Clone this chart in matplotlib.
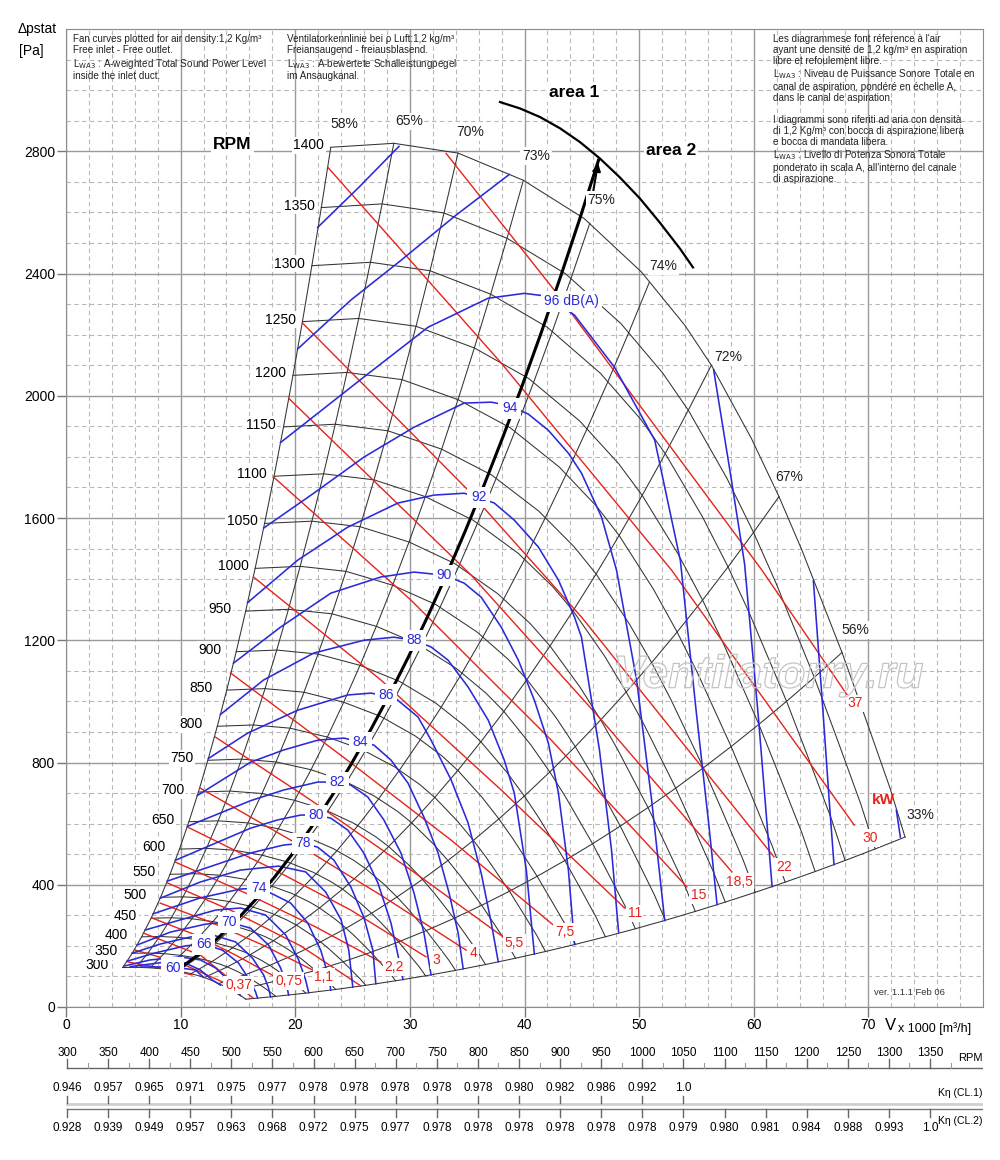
import numpy as np
import matplotlib.pyplot as plt
from matplotlib import patheffects
from matplotlib.transforms import Affine2D

plt.rcParams['font.family'] = ['Liberation Sans', 'DejaVu Sans']
NARROW = ['Liberation Sans Narrow', 'Liberation Sans', 'DejaVu Sans']
BLUE = '#2a2ad8'
RED = '#e5231b'
INK = '#333333'

# fan curve at 1400 rpm, V x 1000 m3/h and static pressure in Pa
base_q = [23.1, 28.6, 34.2, 39.9, 45.2, 50.2, 54.0, 56.3, 59.8, 62.2, 64.2, 67.7, 69.7, 71.9, 73.2]
base_p = [2813, 2826, 2794, 2705, 2580, 2405, 2230, 2100, 1860, 1670, 1495, 1160, 950, 715, 556]
rpm_values = list(range(300, 1401, 50))

# efficiency lines: point where they meet the 1400 rpm curve, and label spot
eff_labels = ['58%', '65%', '70%', '73%', '75%', '74%', '72%', '67%', '56%', '33%']
eff_top_q = [23.1, 28.6, 34.2, 39.9, 45.7, 50.9, 56.3, 62.2, 67.7, 73.2]
eff_top_p = [2813, 2826, 2794, 2705, 2565, 2372, 2100, 1670, 1160, 556]
eff_lab_q = [24.3, 29.9, 35.3, 41.0, 46.7, 52.1, 57.8, 63.1, 68.9, 74.5]
eff_lab_p = [2888, 2898, 2862, 2784, 2640, 2424, 2126, 1734, 1233, 628]

# thick optimum line (top point) and area border arc
thick_top = (46.46, 2771)
arc_q = [37.86, 39.61, 41.35, 43.10, 44.84, 46.59, 48.33, 50.08, 51.82, 53.57, 54.70]
arc_p = [2961, 2940, 2912, 2875, 2830, 2776, 2714, 2645, 2566, 2481, 2420]

# sound power curves LWA3 dB(A)
snd_q = [
    [6.5, 9.3, 11.3, 12.0],
    [5.6, 8.66, 10.41, 11.72, 12.77, 13.47],
    [5.07, 7.35, 9.97, 11.72, 13.04, 14.17, 14.87, 15.22],
    [5.34, 7.79, 10.41, 11.99, 13.65, 15.05, 16.01, 16.54, 16.71],
    [5.77, 8.22, 10.85, 12.77, 14.79, 16.27, 17.24, 17.67, 17.85],
    [6.21, 9.10, 12.16, 14.17, 16.10, 17.67, 18.72, 19.25, 19.42],
    [6.91, 9.97, 13.04, 15.22, 17.41, 19.16, 20.30, 20.91, 21.17],
    [7.61, 11.72, 15.22, 16.80, 17.85, 19.60, 21.09, 22.22, 22.92, 23.10],
    [8.22, 11.72, 15.22, 18.55, 20.91, 22.66, 24.00, 24.67, 25.02],
    [8.84, 16.10, 18.99, 20.73, 21.96, 23.36, 24.85, 25.98, 26.77, 27.03],
    [9.54, 16.10, 18.46, 20.47, 21.78, 23.10, 24.58, 25.98, 27.21, 28.35, 29.05, 29.40],
    [10.59, 16.10, 18.99, 21.96, 23.71, 24.85, 26.33, 27.73, 29.22, 30.36, 31.23, 31.85],
    [11.46, 16.10, 18.99, 21.96, 24.23, 26.86, 28.35, 29.83, 31.23, 32.46, 33.42, 34.21, 34.65],
    [12.42, 15.84, 20.21, 24.58, 26.60, 28.61, 30.71, 31.85, 33.60, 35.08, 36.22, 37.10, 37.71],
    [13.47, 17.24, 21.61, 25.98, 28.61, 30.36, 31.85, 33.33, 35.08, 36.83, 38.23, 39.11, 40.16, 40.86],
    [14.61, 18.72, 23.10, 27.47, 30.36, 32.98, 34.73, 36.22, 37.97, 39.46, 40.86, 42.08, 42.96, 43.83, 44.36],
    [15.84, 20.21, 24.58, 28.96, 32.11, 34.73, 35.96, 37.36, 39.11, 41.21, 42.96, 44.36, 44.97, 46.54, 47.59, 48.21],
    [17.24, 21.61, 25.98, 30.36, 34.73, 37.10, 38.67, 40.33, 42.08, 43.83, 44.97, 46.72, 48.03, 49.78, 51.09, 52.23],
    [18.72, 25.98, 31.58, 36.83, 39.98, 41.91, 44.36, 47.86, 51.36, 53.6, 55.0, 56.1, 56.8],
    [20.21, 24.85, 29.22, 34.03, 38.67],
    [56.5, 57.9, 59.2, 60.4, 61.6],
    [21.96, 25.55, 29.05],
    [65.2, 65.97, 66.58, 67.0],
    [72.44, 72.79],
]
snd_p = [
    [131, 131, 121, 97],
    [132, 147, 144, 121, 88, 72],
    [134, 154, 164, 154, 128, 88, 52, 38],
    [150, 177, 200, 206, 186, 144, 88, 49, 29],
    [176, 206, 229, 236, 213, 160, 105, 62, 33],
    [203, 245, 271, 278, 258, 203, 128, 72, 39],
    [252, 285, 317, 324, 301, 236, 154, 88, 47],
    [305, 357, 386, 389, 373, 340, 275, 186, 98, 55],
    [356, 409, 448, 461, 442, 376, 285, 186, 65],
    [412, 504, 530, 536, 523, 481, 393, 294, 186, 76],
    [480, 585, 612, 628, 628, 618, 579, 504, 406, 275, 154, 90],
    [591, 675, 710, 736, 736, 726, 687, 612, 504, 373, 242, 105],
    [692, 801, 841, 873, 880, 857, 808, 733, 621, 504, 373, 242, 125],
    [813, 896, 971, 1021, 1027, 1014, 949, 873, 743, 602, 438, 275, 148],
    [957, 1070, 1158, 1200, 1210, 1200, 1178, 1135, 1047, 939, 808, 700, 448, 173],
    [1125, 1243, 1354, 1407, 1423, 1413, 1387, 1341, 1243, 1135, 1004, 864, 700, 448, 205],
    [1323, 1462, 1570, 1649, 1675, 1681, 1668, 1649, 1593, 1505, 1397, 1276, 1210, 841, 514, 245],
    [1567, 1681, 1799, 1897, 1976, 1979, 1968, 1940, 1887, 1812, 1747, 1603, 1429, 1070, 677, 283],
    [1847, 2061, 2224, 2319, 2335, 2326, 2264, 2093, 1855, 1460, 960, 590, 335],
    [2153, 2313, 2443, 2591, 2724],
    [2085, 1760, 1450, 950, 394],
    [2551, 2682, 2816],
    [1395, 1004, 677, 466],
    [644, 556],
]
snd_labels = ['60', '66', '70', '74', '78', '80', '82', '84', '86', '88', '90', '92', '94']
snd_lab_q = [9.3, 12.0, 14.2, 16.8, 20.7, 21.8, 23.7, 25.7, 27.9, 30.4, 33.0, 36.0, 38.7]
snd_lab_p = [128, 206, 278, 389, 536, 628, 736, 867, 1021, 1200, 1413, 1668, 1959]

# motor power lines kW
kw_q = [
    [33.16, 42.61, 60.72, 68.15],
    [22.83, 37.97, 52.84, 68.77],
    [20.65, 35.08, 44.97, 61.77],
    [19.42, 35.35, 46.72, 58.09],
    [18.11, 30.10, 42.34, 54.16],
    [16.36, 27.47, 37.97, 48.73],
    [14.35, 23.97, 33.60, 42.52],
    [13.04, 21.35, 30.10, 38.15],
    [11.72, 19.60, 27.47, 34.91],
    [10.59, 17.85, 24.85, 31.41],
    [9.54, 15.66, 21.78, 27.47],
    [8.84, 14.35, 20.47, 25.72],
    [8.22, 12.60, 17.15, 21.52],
    [7.52, 11.29, 14.79, 18.29],
    [6.74, 11.72, 16.3],
    [6.04, 9.97, 13.65],
    [5.42, 8.66, 11.0],
]
kw_p = [
    [2793, 2345, 1429, 1021],
    [2748, 2107, 1429, 595],
    [2237, 1691, 1276, 491],
    [1992, 1413, 939, 442],
    [1734, 1331, 873, 393],
    [1407, 1070, 710, 324],
    [1093, 824, 546, 268],
    [883, 677, 448, 229],
    [716, 546, 366, 186],
    [589, 455, 317, 164],
    [474, 373, 262, 147],
    [406, 317, 200, 69],
    [340, 278, 203, 121],
    [291, 236, 170, 98],
    [242, 170, 30],
    [186, 144, 82],
    [147, 125, 105],
]
kw_labels = ['37', '30', '22', '18,5', '15', '11', '7,5', '5,5', '4', '3', '2,2', '1,1', '0,75', '0,37']
kw_lab_q = [68.86, 70.17, 62.64, 58.71, 55.21, 49.61, 43.48, 39.11, 35.52, 32.28, 28.61, 22.48, 19.42, 15.05]
kw_lab_p = [994, 553, 458, 409, 366, 307, 245, 209, 177, 154, 131, 98, 85, 72]

# correction scales under the chart
scale_rpm = list(range(300, 1351, 50))
k_cl1 = ['0.946', '0.957', '0.965', '0.971', '0.975', '0.977', '0.978', '0.978', '0.978', '0.978',
         '0.978', '0.980', '0.982', '0.986', '0.992', '1.0']
k_cl2 = ['0.928', '0.939', '0.949', '0.957', '0.963', '0.968', '0.972', '0.975', '0.977', '0.978',
         '0.978', '0.978', '0.978', '0.978', '0.978', '0.979', '0.980', '0.981', '0.984', '0.988',
         '0.993', '1.0']

fig = plt.figure(figsize=(10, 11.6), dpi=100)
ax = fig.add_axes([0.066, 1 - 1007 / 1160, 0.917, 978 / 1160])
ax.set_xlim(0, 80)
ax.set_ylim(0, 3200)
ax.set_xticks(np.arange(0, 71, 10))
ax.set_xticks(np.arange(0, 81, 2), minor=True)
ax.set_yticks(np.arange(0, 2801, 400))
ax.set_yticks(np.arange(0, 3201, 100), minor=True)
ax.set_axisbelow(True)
ax.grid(which='major', color='#9a9a9a', lw=1.0)
ax.grid(which='minor', color='#b8b8b8', lw=0.8, ls=(0, (4, 3)))
ax.tick_params(axis='y', which='major', direction='out', length=6.5, width=1, color='#777', pad=1.5, labelsize=10)
ax.tick_params(axis='x', which='major', direction='out', length=7, width=1, color='#777', pad=1, labelsize=10)
ax.tick_params(which='minor', length=0)
for s in ax.spines.values():
    s.set_color('#8c8c8c')

white = dict(boxstyle='square,pad=0.12', fc='white', ec='none')

# rpm curves (fan laws applied by a scaling transform)
for n in rpm_values:
    r = n / 1400
    tr = Affine2D().scale(r, r * r) + ax.transData
    ax.plot(base_q, base_p, color=INK, lw=0.75, transform=tr, zorder=2)
    ax.annotate(str(n), (base_q[0] * r, base_p[0] * r * r), xytext=(-27, 1.5),
                textcoords='offset points', ha='left', va='center', fontsize=10, bbox=white, zorder=6)

# efficiency lines through the rpm curves
ratios = np.array(rpm_values) / 1400
for lab, q0, p0, lq, lp in zip(eff_labels, eff_top_q, eff_top_p, eff_lab_q, eff_lab_p):
    ax.plot(q0 * ratios, p0 * ratios ** 2, color=INK, lw=0.75, zorder=2)
    ax.text(lq, lp, lab, ha='center', va='center', fontsize=10, color='#222', bbox=white, zorder=6)

ax.plot(thick_top[0] * ratios, thick_top[1] * ratios ** 2, color='black', lw=2.2, zorder=4)
ax.annotate('', xy=thick_top, xytext=(thick_top[0] - 0.5, thick_top[1] - 110),
            arrowprops=dict(arrowstyle='-|>', color='black', lw=1.5, mutation_scale=12), zorder=5)
ax.plot(arc_q, arc_p, color='black', lw=1.6, zorder=4)

for q, p in zip(kw_q, kw_p):
    ax.plot(q, p, color=RED, lw=1.0, zorder=3)
for lab, q, p in zip(kw_labels, kw_lab_q, kw_lab_p):
    ax.text(q, p, lab, ha='center', va='center', fontsize=10, color=RED, bbox=white, zorder=6)

for q, p in zip(snd_q, snd_p):
    ax.plot(q, p, color=BLUE, lw=1.15, zorder=3.5)
snd_box = dict(boxstyle='square,pad=0.25', fc='white', ec='none')
for lab, q, p in zip(snd_labels, snd_lab_q, snd_lab_p):
    ax.text(q, p, lab, ha='center', va='center', fontsize=10, color=BLUE, bbox=snd_box, zorder=6)
ax.text(41.7, 2309, '96 dB(A)', ha='left', va='center', fontsize=10, color=BLUE, bbox=snd_box, zorder=6)

ax.text(71.3, 677, 'kW', ha='center', va='center', fontsize=11, color=RED, fontweight='bold', zorder=6)
ax.text(14.5, 2821, 'RPM', ha='center', va='center', fontsize=12.5, fontweight='bold', bbox=white, zorder=6)
ax.text(44.3, 2992, 'area 1', ha='center', va='center', fontsize=12.5, fontweight='bold', bbox=white, zorder=6)
ax.text(52.8, 2801, 'area 2', ha='center', va='center', fontsize=12.5, fontweight='bold', bbox=white, zorder=6)
ax.text(70.5, 46, 'ver. 1.1.1 Feb 06', ha='left', va='center', fontsize=6.8, color='#333', zorder=6)

ax.text(61.3, 1045, 'Ventilatorry.ru', ha='center', va='baseline', fontsize=33, style='italic',
        fontweight='bold', color='none', zorder=7,
        path_effects=[patheffects.withStroke(linewidth=0.9, foreground='#c4c4c4')])

txt_en = ('Fan curves plotted for air density:1,2 Kg/m³\nFree inlet - Free outlet.\n'
          'L$_{\\rm WA3}$ : A-weighted Total Sound Power Level\ninside the inlet duct.')
txt_de = ('Ventilatorkennlinie bei ρ Luft:1,2 kg/m³\nFreiansaugend - freiausblasend.\n'
          'L$_{\\rm WA3}$ : A-bewertete Schalleistungpegel\nim Ansaugkanal.')
txt_fr = ("Les diagrammese font réference à l'air\nayant une densité de 1,2 kg/m³ en aspiration\n"
          "libre et refoulement libre.\nL$_{\\rm WA3}$ : Niveau de Puissance Sonore Totale en\n"
          "canal de aspiration, pondéré en échelle A,\ndans le canal de aspiration.\n\n"
          "I diagrammi sono riferiti ad aria con densità\ndi 1,2 Kg/m³ con bocca di aspirazione libera\n"
          "e bocca di mandata libera.\nL$_{\\rm WA3}$ : Livello di Potenza Sonora Totale\n"
          "ponderato in scala A, all'interno del canale\ndi aspirazione.")
for x, t in [(0.0076, txt_en), (0.241, txt_de), (0.771, txt_fr)]:
    ax.text(x, 0.9945, t, transform=ax.transAxes, ha='left', va='top', fontsize=7.1,
            linespacing=1.12, color='#222', zorder=6)

fig.text(0.018, 1 - 29 / 1160, 'Δpstat', ha='left', va='center', fontsize=10)
fig.text(0.019, 1 - 51 / 1160, '[Pa]', ha='left', va='center', fontsize=10)
fig.text(0.885, 1 - 1026 / 1160, 'V', ha='left', va='center', fontsize=12)
fig.text(0.898, 1 - 1029 / 1160, 'x 1000 [m³/h]', ha='left', va='center', fontsize=9)

# scales below the chart, y in pixel rows
sc = fig.add_axes([0.066, 10 / 1160, 0.917, 115 / 1160])
sc.set_xlim(298.8, 1414.5)
sc.set_ylim(1150, 1035)
sc.axis('off')
right_end = 1414.5
sc.plot([300, right_end], [1068, 1068], color='#666', lw=1)
for n in scale_rpm:
    sc.plot([n, n], [1059, 1068], color='#666', lw=1)
    sc.text(n, 1053, str(n), ha='center', va='center', fontsize=8.5, family=NARROW)
for n in range(325, 1376, 50):
    sc.plot([n, n], [1063, 1068], color='#999', lw=0.8)
sc.text(right_end, 1058, 'RPM', ha='right', va='center', fontsize=8, family=NARROW)

sc.plot([300, right_end], [1104, 1104], color='#cfcfcf', lw=2)
for n, v in zip(scale_rpm, k_cl1):
    sc.plot([n, n], [1096, 1103], color='#666', lw=1)
    sc.text(n, 1088, v, ha='center', va='center', fontsize=8.5, family=NARROW)
sc.text(right_end, 1093, 'Kη (CL.1)', ha='right', va='center', fontsize=7.5, family=NARROW)

sc.plot([300, right_end], [1109, 1109], color='#777', lw=1)
for n, v in zip(scale_rpm, k_cl2):
    sc.plot([n, n], [1109, 1117], color='#666', lw=1)
    sc.text(n, 1128, v, ha='center', va='center', fontsize=8.5, family=NARROW)
sc.text(right_end, 1121, 'Kη (CL.2)', ha='right', va='center', fontsize=7.5, family=NARROW)

fig.savefig('out.png', dpi=100, facecolor='white')
